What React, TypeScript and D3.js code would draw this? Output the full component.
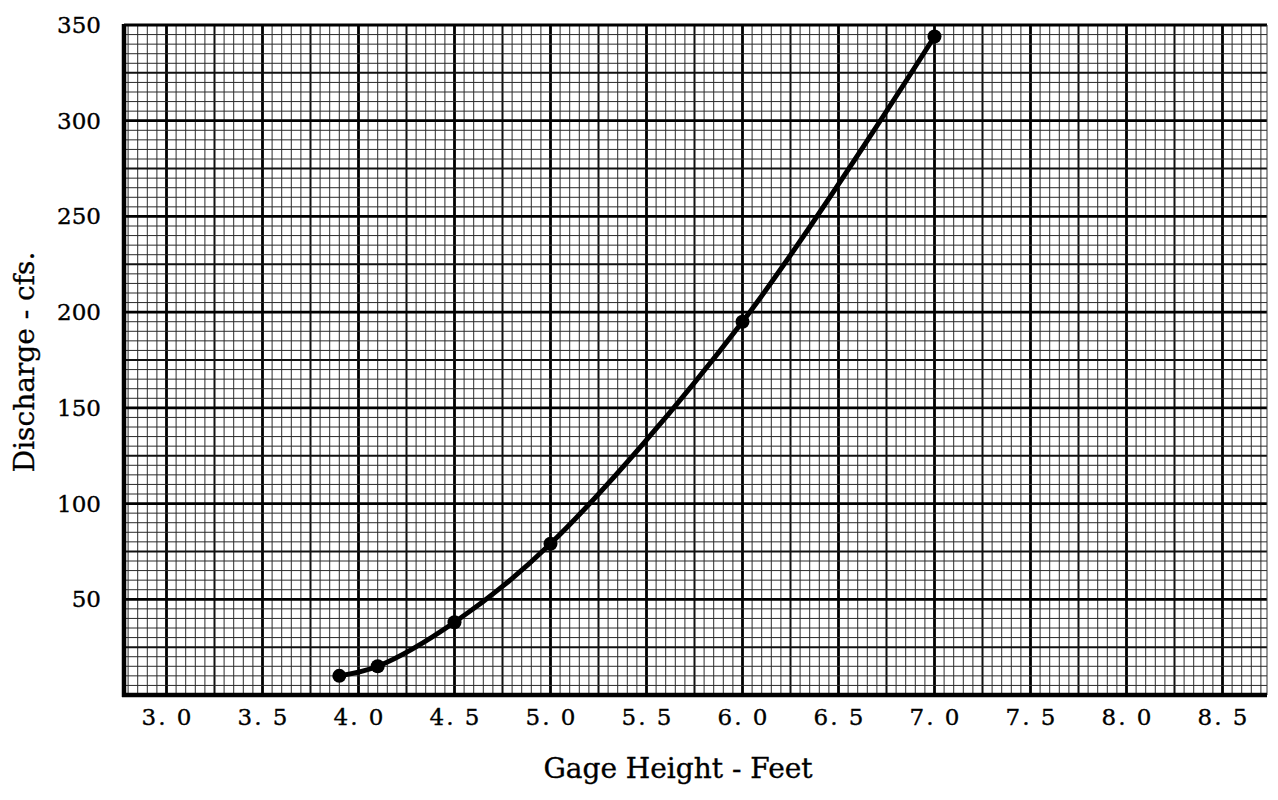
import React from "react";
import * as d3 from "d3";

const gageHeight = [3.9, 4.1, 4.5, 5.0, 6.0, 7.0];
const discharge = [10, 15, 38, 79, 195, 344];
const xTickValues = [3.0, 3.5, 4.0, 4.5, 5.0, 5.5, 6.0, 6.5, 7.0, 7.5, 8.0, 8.5];
const xTickLabels = ["3. 0", "3. 5", "4. 0", "4. 5", "5. 0", "5. 5", "6. 0", "6. 5", "7. 0", "7. 5", "8. 0", "8. 5"];
const yTickValues = [50, 100, 150, 200, 250, 300, 350];
const xTitle = "Gage Height - Feet";
const yTitle = "Discharge - cfs.";

const W = 1278;
const H = 800;
const LEFT = 124;
const RIGHT = 1267;
const TOP = 25;
const BOTTOM = 695;
const FONT = "'DejaVu Serif', serif";

export default function App() {
  const x = d3.scaleLinear().domain([3, 8.5]).range([166.5, 1222.5]);
  const y = d3.scaleLinear().domain([0, 350]).range([BOTTOM, TOP]);

  // vertical grid: every 0.05 ft
  const vLines: { px: number; level: number }[] = [];
  for (let i = 55; i <= 175; i++) {
    const v = i * 0.05;
    const px = x(v);
    if (px <= LEFT + 2 || px > RIGHT + 0.5) continue;
    const level = i % 10 === 0 ? 2 : i % 5 === 0 ? 1 : 0;
    vLines.push({ px, level });
  }
  // horizontal grid: every 5 cfs
  const hLines: { py: number; level: number }[] = [];
  for (let i = 1; i <= 70; i++) {
    const v = i * 5;
    const level = v % 50 === 0 ? 2 : v % 25 === 0 ? 1 : 0;
    hLines.push({ py: y(v), level });
  }
  const widths = [1, 2, 2.8];
  const colors = ["#2a2a2a", "#111", "#000"];

  const pts: [number, number][] = gageHeight.map((g, i) => [x(g), y(discharge[i])]);
  const line = d3.line().curve(d3.curveCatmullRom.alpha(0.5));
  const path = line(pts) || "";

  const textStroke = { stroke: "#000", strokeWidth: 0.35 };

  return (
    <svg
      width={W}
      height={H}
      style={{ position: "absolute", left: 0, top: 0, background: "#fff" }}
      fontFamily={FONT}
    >
      <rect x={0} y={0} width={W} height={H} fill="#fff" />
      <g>
        {vLines.map((l, i) => (
          <line
            key={"v" + i}
            x1={l.px}
            x2={l.px}
            y1={TOP}
            y2={BOTTOM}
            stroke={colors[l.level]}
            strokeWidth={widths[l.level]}
          />
        ))}
        {hLines.map((l, i) => (
          <line
            key={"h" + i}
            x1={LEFT}
            x2={RIGHT}
            y1={l.py}
            y2={l.py}
            stroke={colors[l.level]}
            strokeWidth={widths[l.level]}
          />
        ))}
        <line x1={RIGHT} x2={RIGHT} y1={TOP} y2={BOTTOM} stroke="#333" strokeWidth={1} />
      </g>
      {/* axes */}
      <line x1={LEFT} x2={LEFT} y1={TOP - 1} y2={BOTTOM + 2} stroke="#000" strokeWidth={4.5} />
      <line x1={LEFT - 2} x2={RIGHT} y1={BOTTOM} y2={BOTTOM} stroke="#000" strokeWidth={4.5} />

      {/* curve */}
      <path d={path} fill="none" stroke="#000" strokeWidth={5} strokeLinecap="round" />
      {pts.map((p, i) => (
        <circle key={"c" + i} cx={p[0]} cy={p[1]} r={7} fill="#000" />
      ))}

      {/* tick labels */}
      {xTickValues.map((v, i) => (
        <text
          key={"xt" + i}
          x={x(v) + 1}
          y={725}
          textAnchor="middle"
          fontSize={23}
          letterSpacing={2}
          fill="#000"
          {...textStroke}
        >
          {xTickLabels[i]}
        </text>
      ))}
      {yTickValues.map((v, i) => (
        <text
          key={"yt" + i}
          x={101}
          y={y(v) + 8}
          textAnchor="end"
          fontSize={23}
          fill="#000"
          {...textStroke}
        >
          {v}
        </text>
      ))}

      {/* titles */}
      <text x={678} y={778} textAnchor="middle" fontSize={28} fill="#000" {...textStroke}>
        {xTitle}
      </text>
      <text
        transform={`translate(34, 362) rotate(-90)`}
        textAnchor="middle"
        fontSize={28}
        fill="#000"
        {...textStroke}
      >
        {yTitle}
      </text>
    </svg>
  );
}
